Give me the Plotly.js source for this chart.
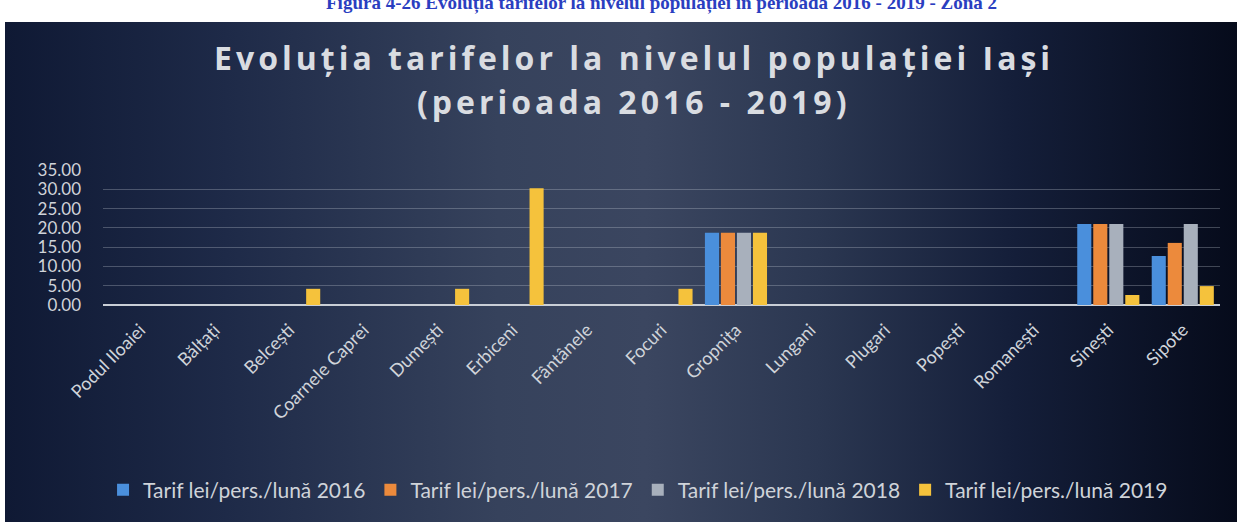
<!DOCTYPE html>
<html>
<head>
<meta charset="utf-8">
<script src="https://cdn.plot.ly/plotly-3.0.1.min.js"></script>
<style>
html,body{margin:0;padding:0;background:#ffffff;}
#bg{position:absolute;left:5px;top:22px;width:1232px;height:500px;
background:linear-gradient(90deg,#0f1934 0%,#1e2a48 18%,#36425c 40%,#3b4660 52%,#2b3751 66%,#141e39 82%,#060b1b 100%);}
#chart{position:absolute;left:0;top:0;width:1237px;height:522px;}
</style>
</head>
<body>
<div id="bg"></div>
<div id="chart"></div>
<script>
const categories = ["Podul Iloaiei","Bălțați","Belcești","Coarnele Caprei","Dumești","Erbiceni","Fântânele","Focuri","Gropnița","Lungani","Plugari","Popești","Romanești","Sinești","Sipote"];
const seriesNames = ["Tarif lei/pers./lună 2016","Tarif lei/pers./lună 2017","Tarif lei/pers./lună 2018","Tarif lei/pers./lună 2019"];
const v2016 = [0,0,0,0,0,0,0,0,18.7,0,0,0,0,21.0,12.7];
const v2017 = [0,0,0,0,0,0,0,0,18.7,0,0,0,0,21.0,16.1];
const v2018 = [0,0,0,0,0,0,0,0,18.7,0,0,0,0,21.0,21.0];
const v2019 = [0,0,4.2,0,4.2,30.3,0,4.2,18.7,0,0,0,0,2.6,4.9];
const yTicks = [0,5,10,15,20,25,30,35];
const titleLine1 = 'Evoluția tarifelor la nivelul populației Iași';
const titleLine2 = '(perioada 2016 - 2019)';
const caption = 'Figura 4-26 Evoluția tarifelor la nivelul populației în perioada 2016 - 2019 - Zona 2';

const colors = ["#4a8fdc","#ec8a3c","#a8b0bc","#f5c23c"];
const values = [v2016,v2017,v2018,v2019];
const data = values.map((v,i)=>({
  type:'bar', x:categories, y:v, name:seriesNames[i],
  marker:{color:colors[i]}
}));

const titleFont = {size:32, color:'#d9dce1', family:'"Open Sans", sans-serif', weight:700};
const layout = {
  width:1237, height:522,
  paper_bgcolor:'rgba(0,0,0,0)', plot_bgcolor:'rgba(0,0,0,0)',
  margin:{l:103,r:17,t:170,b:217},
  barmode:'group', bargap:0.14, bargroupgap:0.12,
  showlegend:true,
  font:{family:'Lato, sans-serif', color:'#d4d8de'},
  xaxis:{type:'category', tickangle:-45, tickfont:{size:18,color:'#d0d4da'},
    showgrid:false, showline:false, ticks:'', zeroline:false, ticklabelstandoff:10},
  yaxis:{range:[0,35], tickvals:yTicks, tickformat:'.2f', tickfont:{size:17,color:'#cfd3d9'},
    gridcolor:'rgba(200,205,215,0.3)', gridwidth:1, zeroline:true, zerolinecolor:'#c9ced6', zerolinewidth:2,
    ticklabelstandoff:21, showline:false},
  legend:{orientation:'h', x:0.479, xanchor:'center', y:0.061, yref:'container', yanchor:'middle',
    font:{size:21,color:'#cfd3d9'}, itemwidth:30, traceorder:'normal'},
  annotations:[
    {text:'<b>'+caption+'</b>', xref:'paper', yref:'paper', x:0.5, y:1.0, xanchor:'center', yanchor:'bottom',
     yshift:154, showarrow:false, font:{family:'"Liberation Serif", serif', size:19, color:'#2a3ec0'}},
    {text:titleLine1, xref:'paper', yref:'paper', x:0.475, y:(305-57)/135, xanchor:'center', yanchor:'middle',
     showarrow:false, font:titleFont},
    {text:titleLine2, xref:'paper', yref:'paper', x:0.475, y:(305-102)/135, xanchor:'center', yanchor:'middle',
     showarrow:false, font:titleFont}
  ]
};
Plotly.newPlot('chart', data, layout, {displayModeBar:false, staticPlot:true}).then(()=>{
  document.querySelectorAll('.annotation-text').forEach(t=>{
    if (t.textContent===titleLine1 || t.textContent===titleLine2) t.style.letterSpacing='4px';
  });
});
</script>
</body>
</html>
